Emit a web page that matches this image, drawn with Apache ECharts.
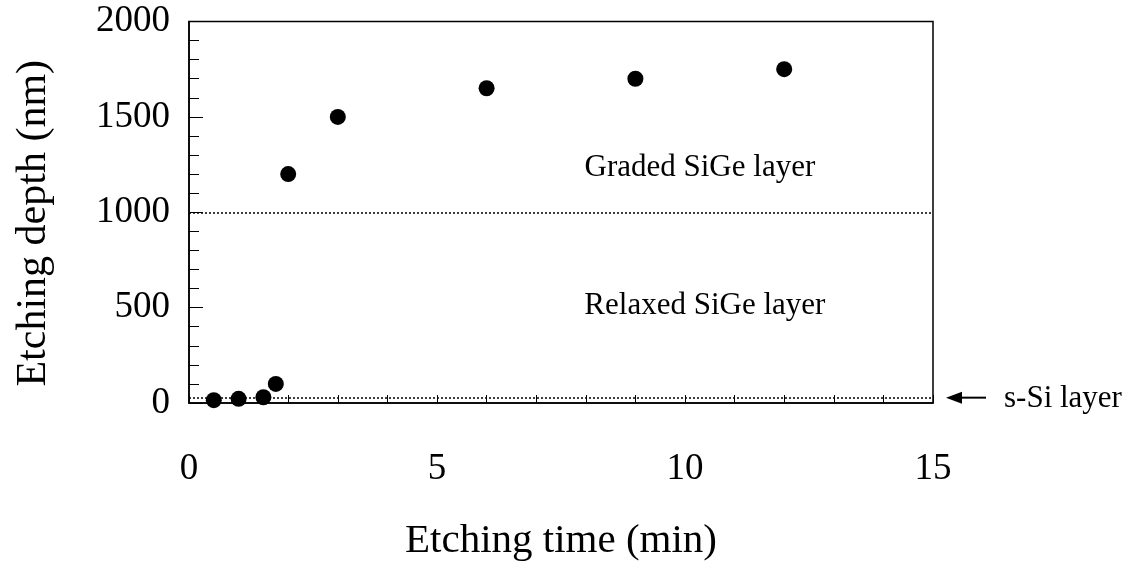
<!DOCTYPE html>
<html>
<head>
<meta charset="utf-8">
<script src="https://cdn.jsdelivr.net/npm/echarts@6/dist/echarts.min.js"></script>
<style>
  html, body { margin: 0; padding: 0; background: #fff; }
  #chart { width: 1143px; height: 568px; }
</style>
</head>
<body>
<div id="chart"></div>
<script>
// Etching time (min) and measured etching depth (nm)
const etchTime  = [0.5, 1, 1.5, 1.75, 2, 3, 6, 9, 12];
const etchDepth = [15, 22, 30, 100, 1200, 1500, 1650, 1700, 1750];

// Layer boundaries (nm)
const boundaryGraded = 1000;
const boundarySSi = 28;

// Region labels: [time, depth, text]
const regionLabels = [
  [10.3, 1235, 'Graded SiGe layer'],
  [10.4, 510, 'Relaxed SiGe layer']
];
const sSiLabel = 's-Si layer';

const FONT = '"Liberation Serif", "Times New Roman", serif';

const chart = echarts.init(document.getElementById('chart'), null, { renderer: 'canvas' });

const option = {
  backgroundColor: '#fff',
  animation: false,
  grid: {
    left: 189, right: 210, top: 21.5, bottom: 165,
    containLabel: false, outerBoundsMode: 'none',
    show: true, borderColor: '#000', borderWidth: 1.5, backgroundColor: 'transparent'
  },
  xAxis: {
    type: 'value', min: 0, max: 15, interval: 5,
    name: 'Etching time (min)', nameLocation: 'middle', nameGap: 118,
    nameTextStyle: { fontFamily: FONT, fontSize: 41, color: '#000' },
    axisLine: { show: true, onZero: false, lineStyle: { color: '#000', width: 1.5 } },
    axisTick: { show: true, inside: true, length: 8, lineStyle: { color: '#000', width: 1 } },
    minorTick: { show: true, splitNumber: 5, length: 8, lineStyle: { color: '#000', width: 1 } },
    axisLabel: { margin: 48, fontFamily: FONT, fontSize: 37, color: '#000', formatter: v => String(v) },
    splitLine: { show: false }
  },
  yAxis: {
    type: 'value', min: 0, max: 2000, interval: 500,
    name: 'Etching depth (nm)', nameLocation: 'middle', nameGap: 134,
    nameTextStyle: { fontFamily: FONT, fontSize: 42, color: '#000', padding: [0, 22, 0, 0] },
    axisLine: { show: true, onZero: false, lineStyle: { color: '#000', width: 1.5 } },
    axisTick: { show: true, inside: true, length: 14, lineStyle: { color: '#000', width: 1 } },
    minorTick: { show: true, splitNumber: 5, length: 10, lineStyle: { color: '#000', width: 1 } },
    axisLabel: { margin: 19, fontFamily: FONT, fontSize: 37, color: '#000', formatter: v => String(v) },
    splitLine: { show: false }
  },
  series: [
    {
      type: 'scatter',
      data: etchTime.map((t, i) => [t, etchDepth[i]]),
      symbol: 'circle',
      symbolSize: 16,
      itemStyle: { color: '#000', opacity: 1 },
      z: 5,
      markLine: {
        silent: true,
        symbol: ['none', 'none'],
        label: { show: false },
        lineStyle: { color: '#000', type: [2, 2], width: 1.5 },
        data: [
          { yAxis: boundaryGraded },
          { yAxis: boundarySSi }
        ]
      }
    }
  ]
};

chart.setOption(option);

// Region labels and the s-Si pointer, placed through the axis scales
function drawAnnotations() {
  const elements = regionLabels.map(([t, d, text]) => {
    const p = chart.convertToPixel({ gridIndex: 0 }, [t, d]);
    return {
      type: 'text', x: p[0], y: p[1],
      style: { text, fontFamily: FONT, fontSize: 31, fill: '#000', align: 'center', verticalAlign: 'middle' }
    };
  });
  const right = chart.convertToPixel({ gridIndex: 0 }, [15, boundarySSi]);
  const ax = right[0] + 13;
  const ay = right[1];
  elements.push(
    { type: 'line', shape: { x1: ax + 12, y1: ay, x2: ax + 40, y2: ay }, style: { stroke: '#000', lineWidth: 2 } },
    { type: 'polygon', shape: { points: [[ax, ay], [ax + 16, ay - 6], [ax + 16, ay + 6]] }, style: { fill: '#000' } },
    {
      type: 'text', x: ax + 58, y: ay + 1,
      style: { text: sSiLabel, fontFamily: FONT, fontSize: 31, fill: '#000', align: 'left', verticalAlign: 'middle' }
    }
  );
  chart.setOption({ graphic: { elements } });
}
drawAnnotations();
</script>
</body>
</html>
